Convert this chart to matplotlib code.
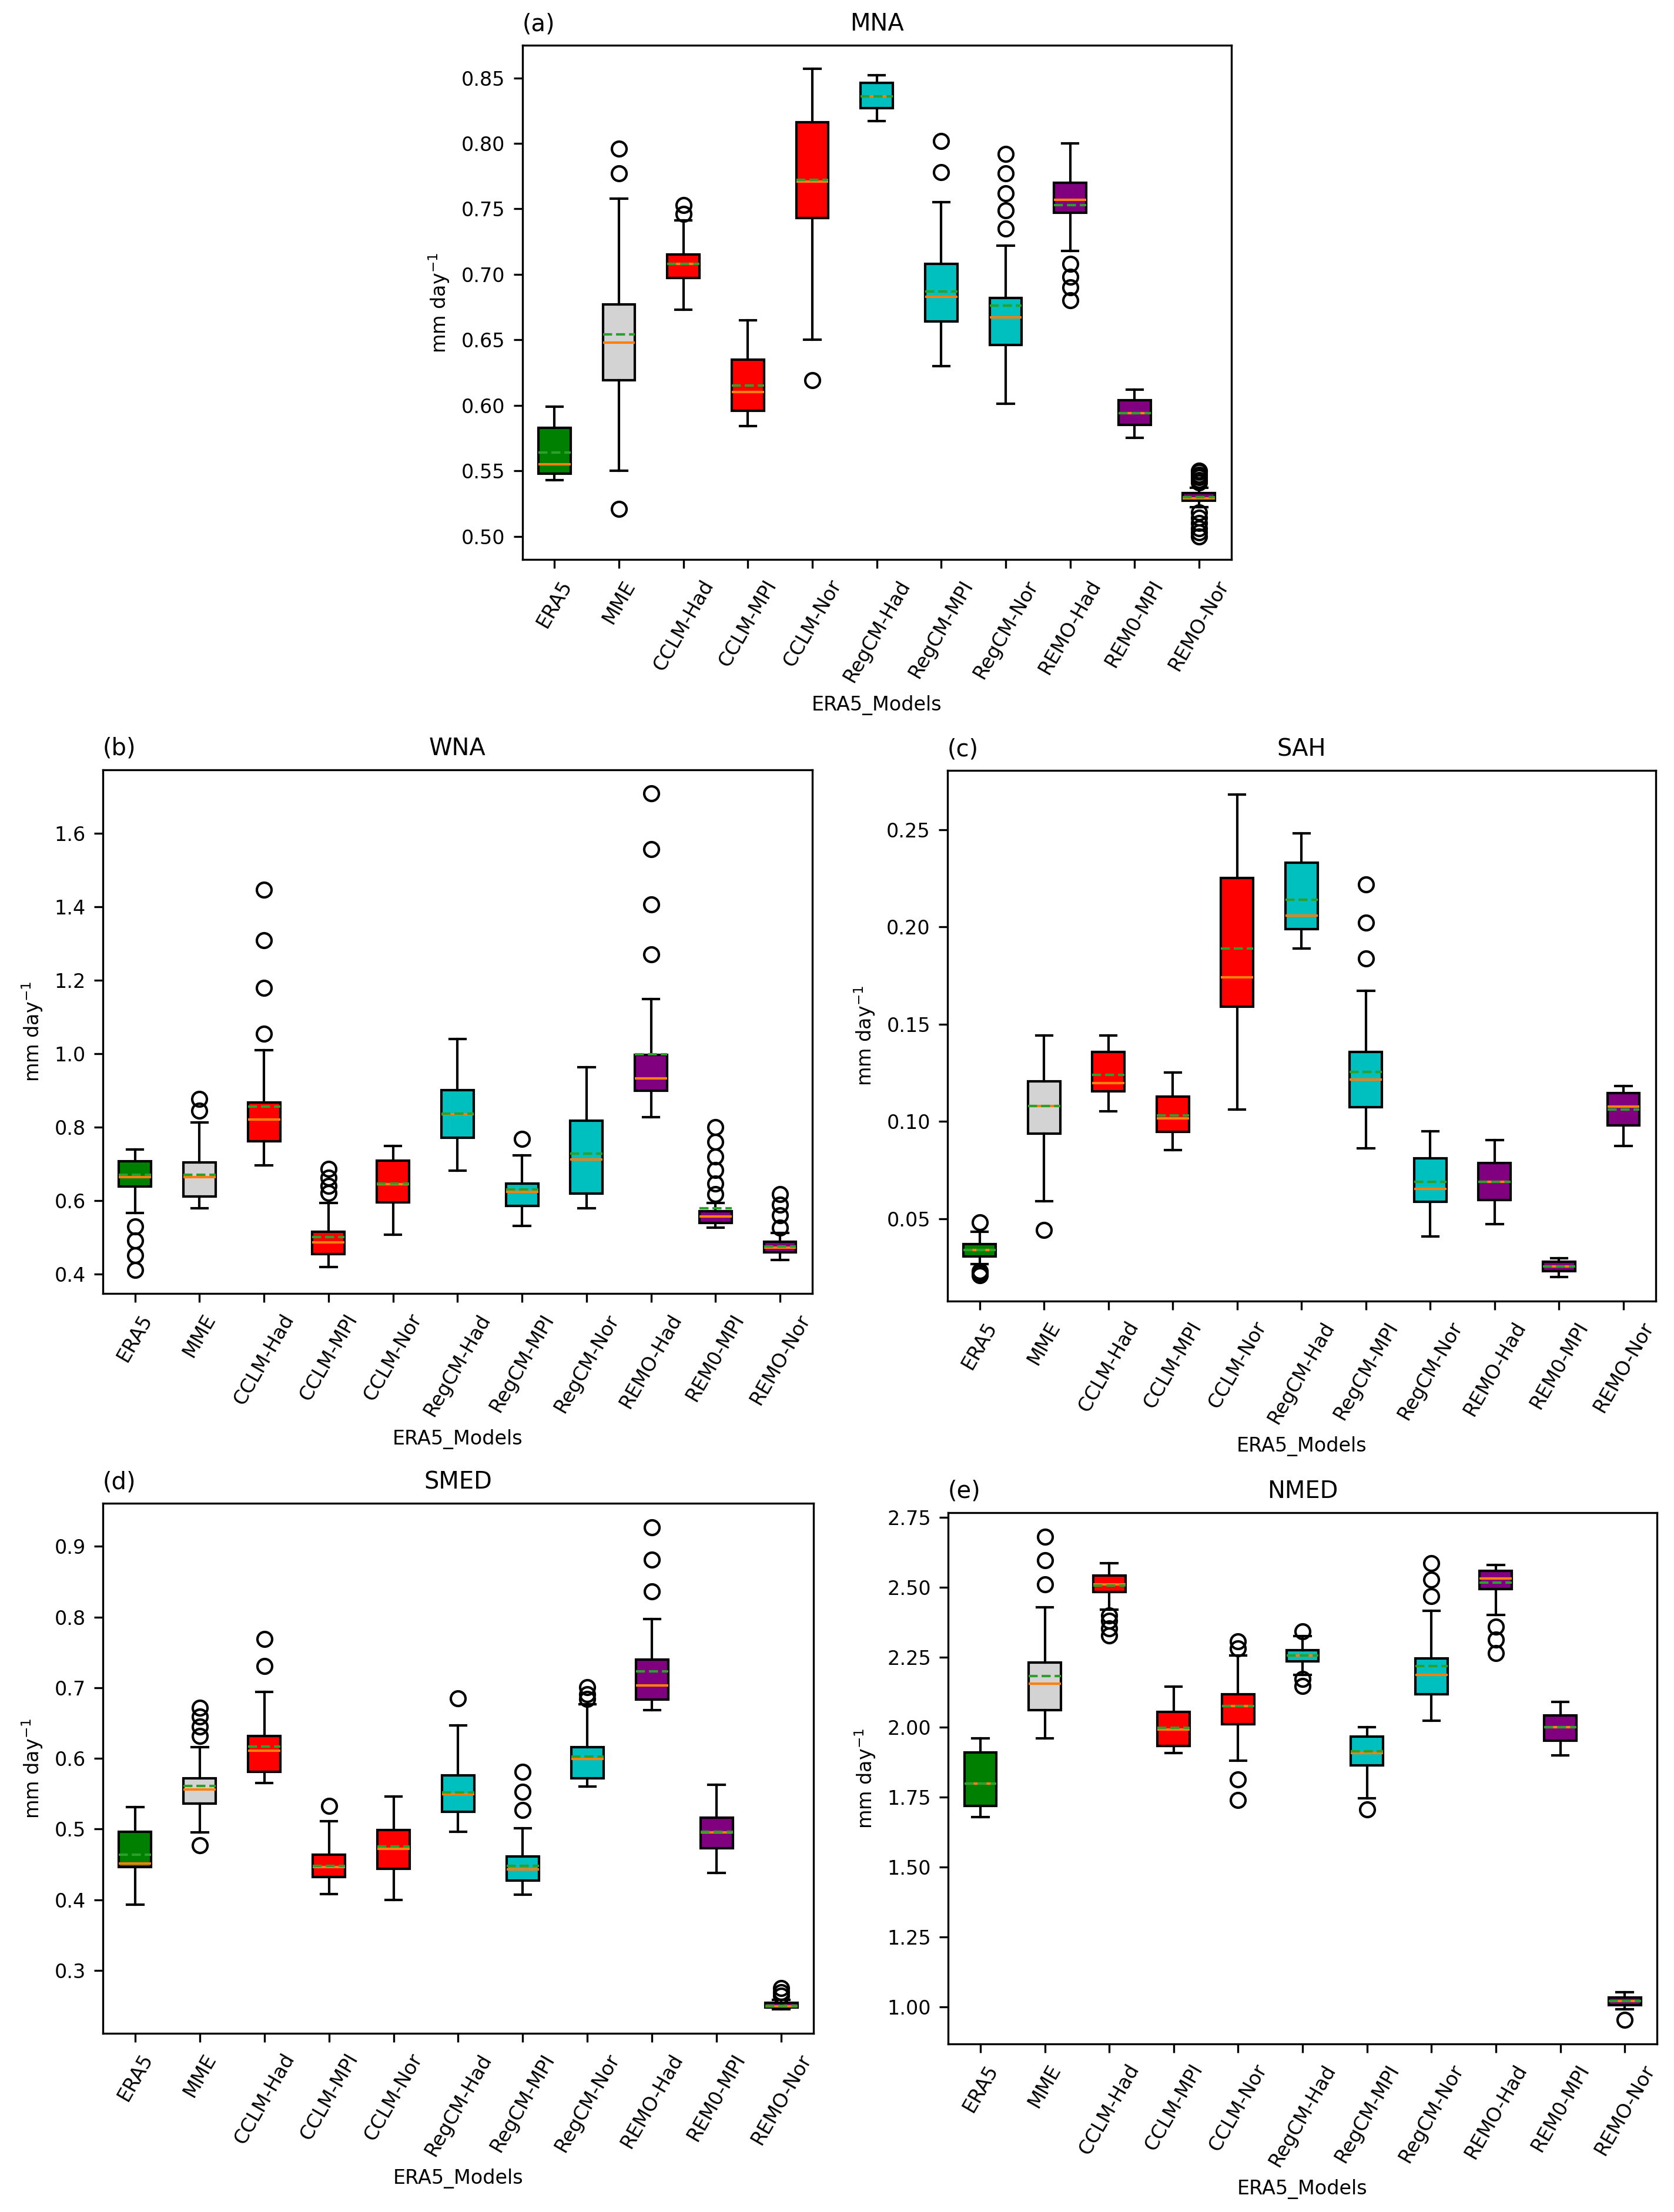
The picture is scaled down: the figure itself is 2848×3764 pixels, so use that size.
import matplotlib
matplotlib.use("Agg")
import matplotlib.pyplot as plt

# model names along the x axis
models = ["ERA5", "MME", "CCLM-Had", "CCLM-MPI", "CCLM-Nor",
          "RegCM-Had", "RegCM-MPI", "RegCM-Nor",
          "REMO-Had", "REM0-MPI", "REMO-Nor"]
box_colors = ["green", "lightgray", "red", "red", "red",
              "c", "c", "c", "purple", "purple", "purple"]

# (a) MNA
mna_lo = [0.543, 0.550, 0.673, 0.584, 0.650, 0.817, 0.630, 0.601, 0.718, 0.575, 0.522]
mna_q1 = [0.548, 0.619, 0.697, 0.596, 0.743, 0.827, 0.664, 0.646, 0.747, 0.585, 0.527]
mna_med = [0.555, 0.648, 0.708, 0.610, 0.771, 0.836, 0.683, 0.667, 0.757, 0.594, 0.529]
mna_mean = [0.564, 0.654, 0.708, 0.615, 0.772, 0.836, 0.687, 0.676, 0.753, 0.594, 0.530]
mna_q3 = [0.583, 0.677, 0.715, 0.635, 0.816, 0.846, 0.708, 0.682, 0.770, 0.604, 0.533]
mna_hi = [0.599, 0.758, 0.741, 0.665, 0.857, 0.852, 0.755, 0.722, 0.800, 0.612, 0.537]
mna_fliers = [[], [0.796, 0.777, 0.521], [0.753, 0.746], [], [0.619], [],
              [0.802, 0.778], [0.792, 0.777, 0.762, 0.749, 0.735],
              [0.708, 0.698, 0.690, 0.680], [],
              [0.541, 0.543, 0.545, 0.547, 0.549, 0.550,
               0.518, 0.514, 0.510, 0.506, 0.503, 0.500]]

# (b) WNA
wna_lo = [0.566, 0.579, 0.697, 0.420, 0.508, 0.682, 0.532, 0.579, 0.828, 0.527, 0.439]
wna_q1 = [0.638, 0.611, 0.762, 0.455, 0.596, 0.772, 0.586, 0.620, 0.900, 0.540, 0.460]
wna_med = [0.664, 0.665, 0.822, 0.486, 0.645, 0.836, 0.625, 0.713, 0.934, 0.557, 0.472]
wna_mean = [0.670, 0.670, 0.857, 0.501, 0.647, 0.838, 0.631, 0.728, 0.999, 0.579, 0.476]
wna_q3 = [0.708, 0.704, 0.867, 0.516, 0.709, 0.901, 0.647, 0.818, 0.997, 0.571, 0.488]
wna_hi = [0.740, 0.814, 1.010, 0.594, 0.750, 1.041, 0.723, 0.963, 1.149, 0.594, 0.513]
wna_fliers = [[0.530, 0.491, 0.452, 0.412], [0.877, 0.846],
              [1.447, 1.310, 1.179, 1.055], [0.686, 0.662, 0.641, 0.621],
              [], [], [0.768], [], [1.709, 1.558, 1.407, 1.271],
              [0.801, 0.760, 0.721, 0.684, 0.647, 0.618],
              [0.618, 0.589, 0.560, 0.527]]

# (c) SAH
sah_lo = [0.0266, 0.059, 0.1052, 0.0851, 0.106, 0.189, 0.086, 0.0408, 0.0472, 0.020, 0.0873]
sah_q1 = [0.0306, 0.0938, 0.1155, 0.0947, 0.159, 0.1988, 0.1072, 0.0588, 0.0597, 0.0229, 0.0978]
sah_med = [0.034, 0.108, 0.1196, 0.1015, 0.174, 0.2058, 0.1214, 0.0653, 0.069, 0.0253, 0.1076]
sah_mean = [0.034, 0.108, 0.124, 0.103, 0.189, 0.214, 0.1255, 0.069, 0.069, 0.0253, 0.106]
sah_q3 = [0.037, 0.1205, 0.1356, 0.1126, 0.225, 0.233, 0.1356, 0.0809, 0.0785, 0.0278, 0.1144]
sah_hi = [0.0432, 0.144, 0.144, 0.125, 0.268, 0.248, 0.167, 0.095, 0.0905, 0.0297, 0.1183]
sah_fliers = [[0.048, 0.023, 0.022, 0.021], [0.044], [], [], [], [],
              [0.2218, 0.2021, 0.1837], [], [], [], []]

# (d) SMED
smed_lo = [0.393, 0.495, 0.565, 0.408, 0.400, 0.496, 0.407, 0.560, 0.668, 0.438, 0.245]
smed_q1 = [0.446, 0.536, 0.581, 0.432, 0.444, 0.524, 0.427, 0.572, 0.683, 0.473, 0.247]
smed_med = [0.451, 0.556, 0.611, 0.446, 0.472, 0.549, 0.443, 0.599, 0.703, 0.495, 0.249]
smed_mean = [0.464, 0.561, 0.617, 0.448, 0.475, 0.552, 0.448, 0.603, 0.723, 0.496, 0.250]
smed_q3 = [0.496, 0.572, 0.632, 0.464, 0.499, 0.576, 0.461, 0.616, 0.740, 0.516, 0.254]
smed_hi = [0.531, 0.616, 0.694, 0.511, 0.546, 0.647, 0.501, 0.677, 0.797, 0.563, 0.258]
smed_fliers = [[], [0.672, 0.659, 0.645, 0.632, 0.477], [0.769, 0.731], [0.533],
               [], [0.685], [0.581, 0.553, 0.527], [0.701, 0.691, 0.684],
               [0.927, 0.881, 0.836], [], [0.275, 0.269, 0.264]]

# (e) NMED
nmed_lo = [1.678, 1.960, 2.419, 1.907, 1.879, 2.187, 1.745, 2.023, 2.401, 1.899, 0.991]
nmed_q1 = [1.719, 2.061, 2.482, 1.932, 2.010, 2.235, 1.863, 2.117, 2.493, 1.952, 1.007]
nmed_med = [1.798, 2.155, 2.509, 1.990, 2.074, 2.255, 1.907, 2.187, 2.530, 1.999, 1.021]
nmed_mean = [1.798, 2.183, 2.506, 1.997, 2.074, 2.255, 1.914, 2.218, 2.517, 1.999, 1.021]
nmed_q3 = [1.910, 2.231, 2.541, 2.054, 2.117, 2.275, 1.966, 2.245, 2.557, 2.041, 1.034]
nmed_hi = [1.960, 2.428, 2.586, 2.144, 2.255, 2.325, 1.999, 2.416, 2.580, 2.090, 1.052]
nmed_fliers = [[], [2.680, 2.596, 2.509], [2.399, 2.379, 2.352, 2.328], [],
               [2.305, 2.281, 1.812, 1.739], [2.342, 2.171, 2.147], [1.706],
               [2.586, 2.526, 2.468], [2.359, 2.312, 2.265], [], [0.954]]

panels = [
    ("(a)", "MNA", mna_lo, mna_q1, mna_med, mna_mean, mna_q3, mna_hi, mna_fliers),
    ("(b)", "WNA", wna_lo, wna_q1, wna_med, wna_mean, wna_q3, wna_hi, wna_fliers),
    ("(c)", "SAH", sah_lo, sah_q1, sah_med, sah_mean, sah_q3, sah_hi, sah_fliers),
    ("(d)", "SMED", smed_lo, smed_q1, smed_med, smed_mean, smed_q3, smed_hi, smed_fliers),
    ("(e)", "NMED", nmed_lo, nmed_q1, nmed_med, nmed_mean, nmed_q3, nmed_hi, nmed_fliers),
]

# axes rectangles [left, bottom, width, height] in figure fractions
positions = [
    [0.312, 0.747, 0.4235, 0.2325],
    [0.0614, 0.4152, 0.4238, 0.2368],
    [0.566, 0.4118, 0.423, 0.2399],
    [0.0614, 0.0808, 0.4246, 0.2396],
    [0.5664, 0.0760, 0.4234, 0.2402],
]

plt.rcParams["font.size"] = 8

fig = plt.figure(figsize=(2848 / 300, 3764 / 300), dpi=300)

for (tag, region, lo, q1, med, mean, q3, hi, fliers), rect in zip(panels, positions):
    ax = fig.add_axes(rect)

    # build the box stats from the arrays
    stats = []
    for i in range(len(models)):
        stats.append({
            "label": models[i],
            "whislo": lo[i], "q1": q1[i], "med": med[i],
            "mean": mean[i], "q3": q3[i], "whishi": hi[i],
            "fliers": fliers[i],
        })

    bp = ax.bxp(stats, showmeans=True, meanline=True, patch_artist=True,
                widths=0.5,
                flierprops={"marker": "o", "markersize": 6,
                            "markerfacecolor": "none", "markeredgecolor": "black"},
                medianprops={"color": "C1"},
                meanprops={"color": "C2", "linestyle": "--"})
    for patch, color in zip(bp["boxes"], box_colors):
        patch.set_facecolor(color)

    ax.set_title(region, fontsize=9.6)
    ax.set_title(tag, loc="left", fontsize=9.6)
    ax.set_ylabel("mm day$^{-1}$")
    ax.set_xlabel("ERA5_Models")
    ax.tick_params(axis="x", labelrotation=60)

fig.savefig("out.png", dpi=300)
